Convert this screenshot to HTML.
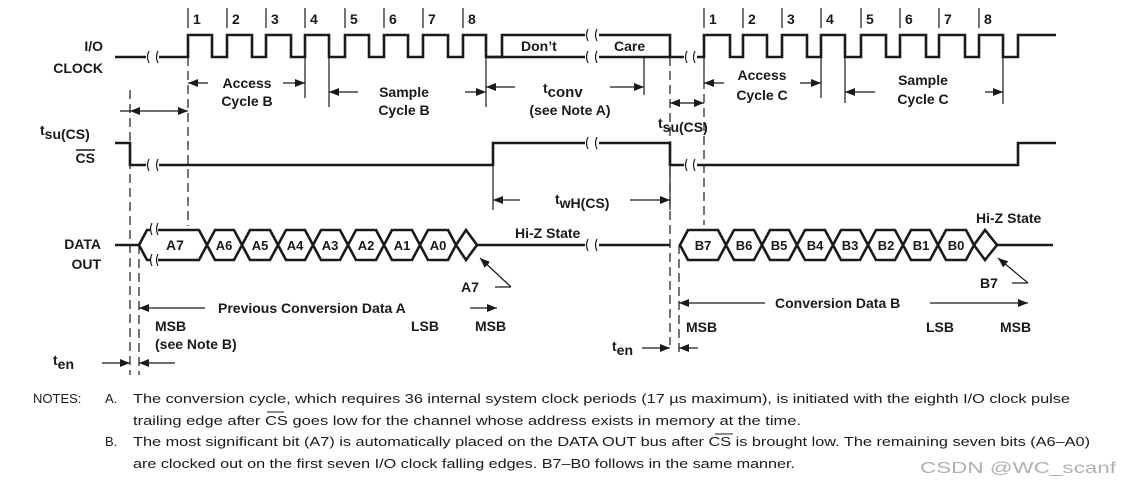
<!DOCTYPE html>
<html><head><meta charset="utf-8"><style>
html,body{margin:0;padding:0;background:#fff;}
svg{display:block;}
text{font-family:"Liberation Sans",Arial,sans-serif;fill:#1a1a1a;}
.b{font-weight:bold;font-size:14px;}
.n{font-size:13px;}
</style></head><body>
<svg width="1123" height="488" viewBox="0 0 1123 488" xmlns="http://www.w3.org/2000/svg">
<defs>
<marker id="ar" markerWidth="10" markerHeight="8" refX="10" refY="4" orient="auto" markerUnits="userSpaceOnUse"><path d="M0,0 L10,4 L0,8 z" fill="#1a1a1a"/></marker>
</defs>
<g stroke="#1a1a1a" fill="none" stroke-width="2.6">
<path d="M115,57 H146 M159,57 H188 V35 H212 V57 H227 V35 H252 V57 H266 V35 H291 V57 H305 V35 H329 V57 H345 V35 H369 V57 H384 V35 H408 V57 H423 V35 H448 V57 H463 V35 H486 V57 H502 V35 H585 M599,35 H670 V57 H684 M697,57 H704 V35 H730 V57 H743 V35 H767 V57 H782 V35 H807 V57 H821 V35 H845 V57 H861 V35 H886 V57 H900 V35 H926 V57 H939 V35 H965 V57 H979 V35 H1003 V57 H1018 V35 H1056"/>
<path d="M486,57 H585 M599,57 H670"/>
<path d="M115,143 H130 V165 H146 M159,165 H493 V143 H585 M599,143 H670 V165 H684 M697,165 H1018 V143 H1056"/>
<path d="M115,245 H139 M477,245 H585 M599,245 H670 M997,245 H1053"/>
<path d="M139,245 L147,230 H199 L215,260 H234 L250,230 H270 L286,260 H305 L321,230 H340 L356,260 H376 L392,230 H412 L428,260 H448 L456,245 L448,230 H428 L412,260 H392 L376,230 H356 L340,260 H321 L305,230 H286 L270,260 H250 L234,230 H215 L199,260 H147 Z"/>
<path d="M456,245 L466,230 L477,245 L466,260 Z"/>
<path d="M680,245 L688,230 H718 L734,260 H754 L770,230 H789 L805,260 H825 L841,230 H860 L876,260 H895 L911,230 H930 L946,260 H966 L974,245 L966,230 H946 L930,260 H911 L895,230 H876 L860,260 H841 L825,230 H805 L789,260 H770 L754,230 H734 L718,260 H688 Z"/>
<path d="M974,245 L985,230 L997,245 L985,260 Z"/>
</g>
<g fill="#fff" stroke="none">
<rect x="150" y="225" width="8" height="40"/>
</g>
<g stroke="#1a1a1a" fill="none" stroke-width="1.2">
<path d="M149,51 q-3,6 0,12 M158,51 q-3,6 0,12 M149,159 q-3,6 0,12 M158,159 q-3,6 0,12 M588,29 q-3,6 0,12 M597,29 q-3,6 0,12 M588,51 q-3,6 0,12 M597,51 q-3,6 0,12 M588,137 q-3,6 0,12 M597,137 q-3,6 0,12 M588,239 q-3,6 0,12 M597,239 q-3,6 0,12 M687,51 q-3,6 0,12 M695,51 q-3,6 0,12 M687,159 q-3,6 0,12 M695,159 q-3,6 0,12 M152,223 q-3,6 0,12 M158,223 q-3,6 0,12 M152,254 q-3,6 0,12 M158,254 q-3,6 0,12"/>
</g>
<g stroke="#1a1a1a" stroke-width="1.2">
<path d="M188,8 V28 M227,8 V28 M266,8 V28 M305,8 V28 M345,8 V28 M384,8 V28 M423,8 V28 M463,8 V28 M704,8 V28 M743,8 V28 M782,8 V28 M821,8 V28 M861,8 V28 M900,8 V28 M939,8 V28 M979,8 V28"/>
<path d="M305,57 V98 M329,57 V107 M486,57 V107 M644,57 V95 M821,57 V98 M845,57 V103 M1003,57 V104 M493,165 V210 M670,165 V210 M704,57 V80"/>
</g>
<g stroke="#1a1a1a" stroke-width="1.2" stroke-dasharray="9,5">
<path d="M130,90 V375 M139,245 V375 M188,57 V226 M670,57 V345 M679,245 V355 M704,80 V225"/>
</g>
<g stroke="#1a1a1a" stroke-width="1.2" fill="none" marker-end="url(#ar)">
<path d="M208,83 H188"/><path d="M283,83 H305"/>
<path d="M358,92 H329"/><path d="M465,92 H486"/>
<path d="M515,87 H486"/><path d="M610,87 H644"/>
<path d="M160,111 H130"/><path d="M160,111 H188"/>
<path d="M687,103 H670"/><path d="M687,103 H704"/>
<path d="M724,83 H704"/><path d="M800,83 H821"/>
<path d="M875,92 H845"/><path d="M985,92 H1003"/>
<path d="M520,200 H493"/><path d="M630,200 H670"/>
<path d="M205,308 H139"/><path d="M470,308 H497"/>
<path d="M765,303 H679"/><path d="M930,303 H1028"/>
<path d="M102,363 H130"/><path d="M175,363 H139"/>
<path d="M642,348 H670"/><path d="M698,348 H679"/>
<path d="M511,287 L480,258"/><path d="M1028,283 L998,258"/>
</g>
<path d="M120,111 H130 M495,287 H511 M1012,283 H1028" stroke="#1a1a1a" stroke-width="1.2"/>
<g class="b">
<text x="193" y="24">1</text><text x="232" y="24">2</text><text x="271" y="24">3</text><text x="310" y="24">4</text><text x="350" y="24">5</text><text x="389" y="24">6</text><text x="428" y="24">7</text><text x="468" y="24">8</text>
<text x="709" y="24">1</text><text x="748" y="24">2</text><text x="787" y="24">3</text><text x="826" y="24">4</text><text x="866" y="24">5</text><text x="905" y="24">6</text><text x="944" y="24">7</text><text x="984" y="24">8</text>
<text x="103" y="51" text-anchor="end">I/O</text><text x="103" y="73" text-anchor="end">CLOCK</text>
<text x="95" y="163" text-anchor="end">CS</text>
<text x="101" y="249" text-anchor="end">DATA</text><text x="101" y="269" text-anchor="end">OUT</text>
<text x="521" y="51">Don’t</text><text x="614" y="51">Care</text>
<text x="247" y="88" text-anchor="middle">Access</text><text x="247" y="106" text-anchor="middle">Cycle B</text>
<text x="404" y="97" text-anchor="middle">Sample</text><text x="404" y="115" text-anchor="middle">Cycle B</text>
<text x="762" y="80" text-anchor="middle">Access</text><text x="762" y="100" text-anchor="middle">Cycle C</text>
<text x="923" y="85" text-anchor="middle">Sample</text><text x="923" y="104" text-anchor="middle">Cycle C</text>
<text x="543" y="93">t<tspan font-size="15" dy="4">conv</tspan></text>
<text x="570" y="115" text-anchor="middle">(see Note A)</text>
<text x="40" y="135">t<tspan dy="4">su(CS)</tspan></text>
<text x="658" y="128">t<tspan dy="4">su(CS)</tspan></text>
<text x="555" y="204">t<tspan dy="4">wH(CS)</tspan></text>
<text x="515" y="238">Hi-Z State</text>
<text x="976" y="223">Hi-Z State</text>
<text x="461" y="292">A7</text><text x="980" y="288">B7</text>
<text x="218" y="313">Previous Conversion Data A</text>
<text x="775" y="308">Conversion Data B</text>
<text x="155" y="331">MSB</text><text x="155" y="349">(see Note B)</text>
<text x="411" y="331">LSB</text><text x="475" y="331">MSB</text>
<text x="686" y="332">MSB</text><text x="926" y="332">LSB</text><text x="1000" y="332">MSB</text>
<text x="53" y="365">t<tspan dy="4">en</tspan></text>
<text x="612" y="351">t<tspan dy="4">en</tspan></text>
<text x="166" y="250">A7</text>
<text x="224" y="250" text-anchor="middle" font-size="13">A6</text>
<text x="260" y="250" text-anchor="middle" font-size="13">A5</text>
<text x="295" y="250" text-anchor="middle" font-size="13">A4</text>
<text x="330" y="250" text-anchor="middle" font-size="13">A3</text>
<text x="366" y="250" text-anchor="middle" font-size="13">A2</text>
<text x="402" y="250" text-anchor="middle" font-size="13">A1</text>
<text x="438" y="250" text-anchor="middle" font-size="13">A0</text>
<text x="703" y="250" text-anchor="middle" font-size="13">B7</text>
<text x="744" y="250" text-anchor="middle" font-size="13">B6</text>
<text x="779" y="250" text-anchor="middle" font-size="13">B5</text>
<text x="815" y="250" text-anchor="middle" font-size="13">B4</text>
<text x="850" y="250" text-anchor="middle" font-size="13">B3</text>
<text x="886" y="250" text-anchor="middle" font-size="13">B2</text>
<text x="921" y="250" text-anchor="middle" font-size="13">B1</text>
<text x="956" y="250" text-anchor="middle" font-size="13">B0</text>
</g>
<path d="M76,150 H95" stroke="#1a1a1a" stroke-width="1.5"/>
<g class="n">
<text x="33" y="403">NOTES:</text>
<text x="105" y="403">A.</text>
<text x="133" y="403" textLength="937" lengthAdjust="spacingAndGlyphs">The conversion cycle, which requires 36 internal system clock periods (17 µs maximum), is initiated with the eighth I/O clock pulse</text>
<text x="133" y="425" textLength="668" lengthAdjust="spacingAndGlyphs">trailing edge after CS goes low for the channel whose address exists in memory at the time.</text>
<text x="105" y="446">B.</text>
<text x="133" y="446" textLength="957" lengthAdjust="spacingAndGlyphs">The most significant bit (A7) is automatically placed on the DATA OUT bus after CS is brought low. The remaining seven bits (A6–A0)</text>
<text x="133" y="468" textLength="662" lengthAdjust="spacingAndGlyphs">are clocked out on the first seven I/O clock falling edges. B7–B0 follows in the same manner.</text>
<text x="920" y="473" style="fill:#b0b0b0;font-size:16px" textLength="196" lengthAdjust="spacingAndGlyphs">CSDN @WC_scanf</text>
</g>
<path d="M267,412 H284 M715,434 H733" stroke="#1a1a1a" stroke-width="1"/>
</svg>
</body></html>
